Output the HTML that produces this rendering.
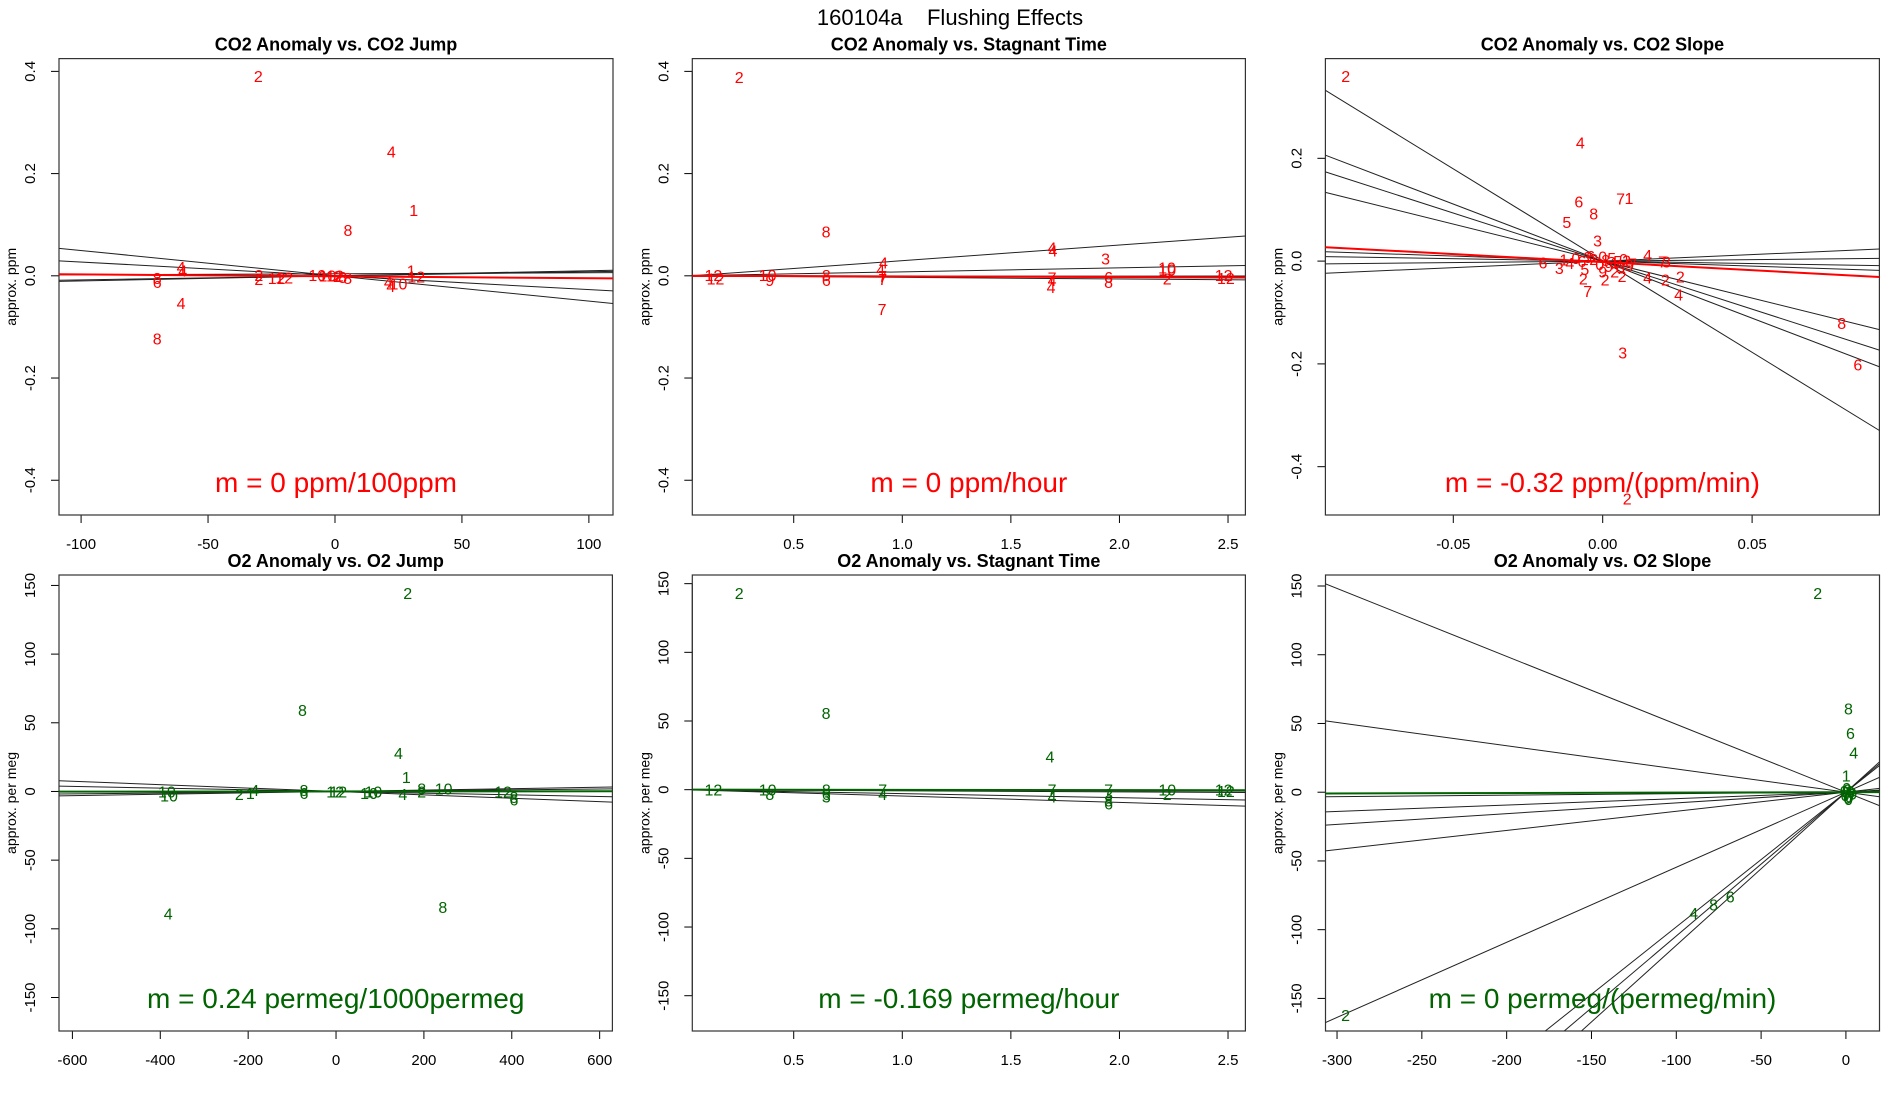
<!DOCTYPE html>
<html><head><meta charset="utf-8"><style>
html,body{margin:0;padding:0;background:#fff;width:1900px;height:1100px;overflow:hidden;}
svg{display:block;font-family:"Liberation Sans",Arial,sans-serif;overflow:hidden;}
</style></head><body>
<svg id="fig" width="1900" height="1100" viewBox="0 0 1900 1100">
<rect width="1900" height="1100" fill="#fff"/>
<text x="950" y="25" font-size="22" text-anchor="middle">160104a&#160;&#160;&#160;&#160;Flushing Effects</text>
</svg>
<script>
// ---- Panel 1: CO2 Anomaly vs CO2 Jump
const p1X=[-30.2,22.2,31,5.1,-60.6,-60.6,-70,-70,-70,-60,-30,-30,-23,-20,-7,-3,0,3,5,21,22,25,30,32,1];
const p1Y=[0.391,0.243,0.129,0.09,0.017,-0.053,-0.123,-0.004,-0.012,0.01,0.002,-0.006,-0.004,-0.003,0.002,0.001,0.001,-0.002,-0.004,-0.012,-0.02,-0.015,0.01,-0.001,0.0];
const p1Lab=["2","4","1","8","4","4","8","8","6","4","2","2","12","12","10","10","12","8","8","4","4","10","1","12","2"];
const p1Slopes=[-0.000495,-0.00027,0.0001,0.00008,0.00002];
const p1Ints=[0,0,0,0,0.004];
const p1Fit=[-0.0000367,-0.001];
const p1XTicks=[-100,-50,0,50,100];
const p1YTicks=[-0.4,-0.2,0.0,0.2,0.4];
const p1YTickLab=["-0.4","-0.2","0.0","0.2","0.4"];
// ---- Panel 2: CO2 Anomaly vs Stagnant Time
const p2X=[0.249,0.649,1.694,1.936,0.907,0.913,1.685,2.219,0.13,0.14,0.38,0.39,0.65,0.65,0.91,0.91,1.69,1.69,1.95,1.95,2.22,2.22,2.48,2.49,1.69,0.9];
const p2Y=[0.389,0.087,0.05,0.034,-0.065,0.026,-0.022,0.016,0.002,-0.005,0.002,-0.008,0.002,-0.008,0.0,-0.006,-0.003,-0.008,-0.002,-0.012,0.012,-0.005,0.002,-0.004,0.055,0.012];
const p2Lab=["2","8","4","3","7","4","4","10","12","12","10","9","8","6","7","7","7","4","6","8","10","2","12","12","4","4"];
const p2Slopes=[0.0306,0.0078,-0.0031,-0.002,0.0002];
const p2Ints=[-0.001,0,0,0.001,-0.001];
const p2Fit=[-0.0012,0.0];
const p2XTicks=[0.5,1.0,1.5,2.0,2.5];
const p2XTickLab=["0.5","1.0","1.5","2.0","2.5"];
// ---- Panel 3: CO2 Anomaly vs CO2 Slope
const p3X=[-0.086,-0.0075,-0.008,0.006,0.0088,-0.003,-0.012,-0.0017,-0.02,-0.0145,-0.0065,-0.005,0.0008,0.0065,0.015,0.021,0.026,0.0254,0.02,0.0213,0.015,0.080,0.0854,0.0067,0.0082,
 -0.013,-0.011,-0.009,-0.007,-0.005,-0.003,-0.001,0.0,0.001,0.002,0.003,0.004,0.005,0.006,0.007,0.008,0.01,-0.006,0.0,0.004,-0.004,0.009];
const p3Y=[0.36,0.231,0.116,0.122,0.123,0.093,0.076,0.04,-0.003,-0.013,-0.034,-0.058,-0.036,-0.029,-0.032,-0.036,-0.03,-0.065,-0.001,-0.001,0.012,-0.12,-0.201,-0.178,-0.462,
 0.003,-0.004,0.006,0.0,0.008,0.004,-0.006,0.009,0.002,-0.01,0.006,-0.003,0.0,-0.012,0.004,0.001,-0.005,-0.015,-0.02,-0.02,0.01,-0.008];
const p3Lab=["2","4","6","7","1","8","5","3","6","3","2","7","2","2","4","2","2","4","7","3","4","8","6","3","2",
 "1","4","0","6","3","2","0","0","8","9","5","1","5","3","0","2","7","5","9","2","6","9"];
const p3Slopes=[-3.57,-2.22,-1.87,-1.44,-0.196,0.254,0.057,-0.095];
const p3Ints=[0.001,0,0,0,0,0,0,0];
const p3Fit=[-0.313,-0.002];
const p3XTicks=[-0.05,0.0,0.05];
const p3XTickLab=["-0.05","0.00","0.05"];
const p3YTicks=[-0.4,-0.2,0.0,0.2];
const p3YTickLab=["-0.4","-0.2","0.0","0.2"];
// ---- Panel 4: O2 Anomaly vs O2 Jump
const p4X=[163,-76.5,142,160,245,-382,243,-385,-380,-220,-195,-185,-73,-73,-2,5,75,85,152,195,195,380,405,405];
const p4Y=[144.6,59.4,27.9,10.7,2.3,-89,-84,0,-3,-2,-1,1,1,-1,0,0,-1,0,-2,2,0,0,-4,-6];
const p4Lab=["2","8","4","1","10","4","8","10","10","2","1","4","8","6","12","12","10","10","4","8","2","12","8","6"];
const p4Slopes=[-0.0124,-0.0061,0.0051,0.003];
const p4Ints=[0,0,0,0];
const p4Fit=[0.00024,0];
const p4XTicks=[-600,-400,-200,0,200,400,600];
const p4YTicks=[-150,-100,-50,0,50,100,150];
// ---- Panel 5: O2 Anomaly vs Stagnant Time
const p5X=[0.249,0.649,1.68,0.13,0.38,0.39,0.65,0.65,0.65,0.91,0.91,1.69,1.69,1.95,1.95,1.95,1.95,2.22,2.22,2.48,2.49];
const p5Y=[143.3,56,24.3,0,0,-3,0,-3,-5,0,-3,0,-5,0,-3,-8,-10,0,-3,0,-1];
const p5Lab=["2","8","4","12","10","8","8","6","3","7","4","7","4","7","3","8","6","10","2","12","12"];
const p5Slopes=[-4.63,-2.9,-0.8,-0.4];
const p5Ints=[0,0,0,0];
const p5Fit=[-0.169,0];
// ---- Panel 6: O2 Anomaly vs O2 Slope
const p6X=[-16.6,1.5,2.7,4.6,0.2,-295,-89.7,-78,-68.2,0,1,2,-1,3,1.5,0.5,-0.5,2.5,4,1];
const p6Y=[145,61,43,29,12,-162,-88,-81.7,-75.9,0,2,-3,1,0,-5,3,-2,1,-1,-4];
const p6Lab=["2","8","6","4","1","2","4","8","6","0","0","0","0","0","0","0","0","0","0","0"];
const p6Slopes=[-0.494,-0.169,0.0108,0.0466,0.078,0.139,0.546,0.98,1.046,1.114];
const p6Ints=[0,0,0,0,0,0,0,0,0,0];
const p6Fit=[0.003,0];
const p6XTicks=[-300,-250,-200,-150,-100,-50,0];

const NS="http://www.w3.org/2000/svg";
const fig=document.getElementById('fig');
function mk(tag,attrs,parent){const e=document.createElementNS(NS,tag);for(const k in attrs)e.setAttribute(k,attrs[k]);(parent||fig).appendChild(e);return e;}

// clip y=b+m*x to the data rectangle; returns [xa,xb] or null
function clipSeg(m,b,xd,yd){
  let xa=xd[0],xb=xd[1];
  if(m!==0){
    let x1=(yd[0]-b)/m,x2=(yd[1]-b)/m;
    if(x1>x2){const t=x1;x1=x2;x2=t;}
    xa=Math.max(xa,x1);xb=Math.min(xb,x2);
  }
  return xa<xb?[xa,xb]:null;
}

function panel(id,cfg){
  const bx0=cfg.bx0,by0=cfg.by0,bx1=cfg.bx1,by1=cfg.by1,xd=cfg.xd,yd=cfg.yd;
  const sx=v=>bx0+(v-xd[0])/(xd[1]-xd[0])*(bx1-bx0);
  const sy=v=>by1-(v-yd[0])/(yd[1]-yd[0])*(by1-by0);
  const g=mk('g',{});
  
  
  const cp=mk('clipPath',{id:'clip'+id},g);
  mk('rect',{x:bx0,y:by0,width:bx1-bx0,height:by1-by0},cp);
  const t=mk('text',{x:(bx0+bx1)/2,y:by0-8,'font-size':18,'font-weight':'bold','text-anchor':'middle'},g);
  t.textContent=cfg.title;
  
  
  const yl=mk('text',{x:bx0-43,y:(by0+by1)/2,'font-size':14,'text-anchor':'middle',transform:`rotate(-90 ${bx0-43} ${(by0+by1)/2})`},g);
  yl.textContent=cfg.ylab;
  
  
  const xa=mk('g',{},g);
  
  
  mk('line',{x1:sx(cfg.xt[0]),x2:sx(cfg.xt[cfg.xt.length-1]),y1:by1,y2:by1,stroke:'#000'},xa);
  cfg.xt.forEach((v,i)=>{
    mk('line',{x1:sx(v),x2:sx(v),y1:by1,y2:by1+8,stroke:'#000'},xa);
    const tt=mk('text',{x:sx(v),y:by1+34,'font-size':15,'text-anchor':'middle'},xa);
    tt.textContent=cfg.xtl?cfg.xtl[i]:String(v);
    
    
  });
  const ya=mk('g',{},g);
  
  
  mk('line',{x1:bx0,x2:bx0,y1:sy(cfg.yt[0]),y2:sy(cfg.yt[cfg.yt.length-1]),stroke:'#000'},ya);
  cfg.yt.forEach((v,i)=>{
    mk('line',{x1:bx0,x2:bx0-8,y1:sy(v),y2:sy(v),stroke:'#000'},ya);
    const tt=mk('text',{x:bx0-24,y:sy(v),'font-size':15,'text-anchor':'middle',transform:`rotate(-90 ${bx0-24} ${sy(v)})`},ya);
    tt.textContent=cfg.ytl?cfg.ytl[i]:String(v);
    
    
  });
  mk('rect',{x:bx0,y:by0,width:bx1-bx0,height:by1-by0,fill:'none',stroke:'#333','stroke-width':1.2},g);
  const cl=mk('g',{'clip-path':`url(#clip${id})`},g);
  cfg.sl.forEach((m,i)=>{
    const b=cfg.ic[i];
    const s=clipSeg(m,b,xd,yd);
    if(!s)return;
    const ln=mk('line',{x1:sx(s[0]),y1:sy(b+m*s[0]),x2:sx(s[1]),y2:sy(b+m*s[1]),stroke:'#222','stroke-width':1},cl);
    
    
  });
  cfg.px.forEach((x,i)=>{
    const tt=mk('text',{x:sx(x),y:sy(cfg.py[i])+6,'font-size':16,'text-anchor':'middle',fill:cfg.col},cl);
    tt.textContent=cfg.pl[i];
    
    
  });
  const fs=clipSeg(cfg.fit[0],cfg.fit[1],xd,yd);
  if(fs){
    const f=mk('line',{x1:sx(fs[0]),y1:sy(cfg.fit[1]+cfg.fit[0]*fs[0]),x2:sx(fs[1]),y2:sy(cfg.fit[1]+cfg.fit[0]*fs[1]),stroke:cfg.col,'stroke-width':2},cl);
    
    
  }
  const mt=mk('text',{x:(bx0+bx1)/2,y:by1-23,'font-size':28,'text-anchor':'middle',fill:cfg.col},g);
  mt.textContent=cfg.m;
  
  
}
const RED='#ff0000',GRN='#006400';
const topRow={by0:58.6,by1:515},botRow={by0:575,by1:1031};
function cfgWith(row,o){o.by0=row.by0;o.by1=row.by1;return o;}
panel('co2-jump',cfgWith(topRow,{bx0:59,bx1:613,xd:[-108.7,109.5],yd:[-0.468,0.425],xt:p1XTicks,yt:p1YTicks,ytl:p1YTickLab,px:p1X,py:p1Y,pl:p1Lab,sl:p1Slopes,ic:p1Ints,fit:p1Fit,col:RED,title:'CO2 Anomaly vs. CO2 Jump',ylab:'approx. ppm',m:'m = 0 ppm/100ppm'}));
panel('co2-stagnant',cfgWith(topRow,{bx0:692.3,bx1:1245.4,xd:[0.033,2.58],yd:[-0.468,0.425],xt:p2XTicks,xtl:p2XTickLab,yt:p1YTicks,ytl:p1YTickLab,px:p2X,py:p2Y,pl:p2Lab,sl:p2Slopes,ic:p2Ints,fit:p2Fit,col:RED,title:'CO2 Anomaly vs. Stagnant Time',ylab:'approx. ppm',m:'m = 0 ppm/hour'}));
panel('co2-slope',cfgWith(topRow,{bx0:1325.4,bx1:1879.4,xd:[-0.0928,0.0926],yd:[-0.494,0.394],xt:p3XTicks,xtl:p3XTickLab,yt:p3YTicks,ytl:p3YTickLab,px:p3X,py:p3Y,pl:p3Lab,sl:p3Slopes,ic:p3Ints,fit:p3Fit,col:RED,title:'CO2 Anomaly vs. CO2 Slope',ylab:'approx. ppm',m:'m = -0.32 ppm/(ppm/min)'}));
panel('o2-jump',cfgWith(botRow,{bx0:59,bx1:612.4,xd:[-630.5,629],yd:[-174.4,157.6],xt:p4XTicks,yt:p4YTicks,px:p4X,py:p4Y,pl:p4Lab,sl:p4Slopes,ic:p4Ints,fit:p4Fit,col:GRN,title:'O2 Anomaly vs. O2 Jump',ylab:'approx. per meg',m:'m = 0.24 permeg/1000permeg'}));
panel('o2-stagnant',cfgWith(botRow,{bx0:692.3,bx1:1245.4,xd:[0.033,2.58],yd:[-175.7,156.3],xt:p2XTicks,xtl:p2XTickLab,yt:p4YTicks,px:p5X,py:p5Y,pl:p5Lab,sl:p5Slopes,ic:p5Ints,fit:p5Fit,col:GRN,title:'O2 Anomaly vs. Stagnant Time',ylab:'approx. per meg',m:'m = -0.169 permeg/hour'}));
panel('o2-slope',cfgWith(botRow,{bx0:1325.5,bx1:1879.5,xd:[-306.8,19.8],yd:[-173.7,158],xt:p6XTicks,yt:p4YTicks,px:p6X,py:p6Y,pl:p6Lab,sl:p6Slopes,ic:p6Ints,fit:p6Fit,col:GRN,title:'O2 Anomaly vs. O2 Slope',ylab:'approx. per meg',m:'m = 0 permeg/(permeg/min)'}));
</script>
</body></html>
